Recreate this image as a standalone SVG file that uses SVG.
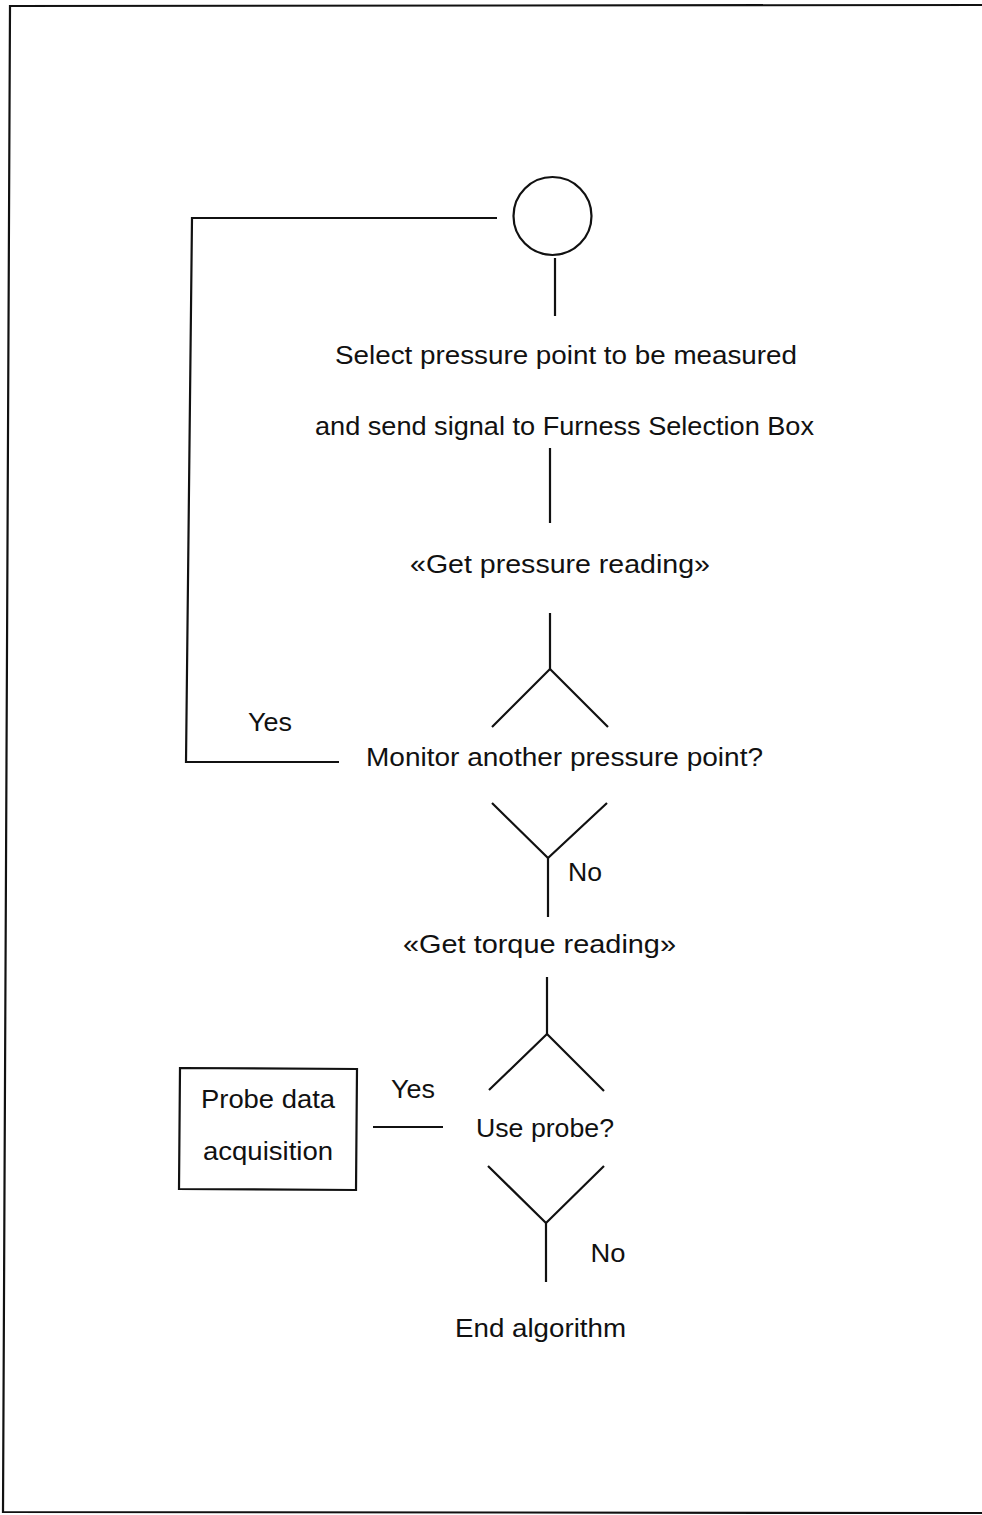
<svg xmlns="http://www.w3.org/2000/svg" width="982" height="1515" viewBox="0 0 982 1515">
<style>
.ln{stroke:#111;stroke-width:2.2;fill:none;stroke-linecap:butt}
.t{font-family:"Liberation Sans",Arial,sans-serif;font-size:25px;fill:#111;text-anchor:middle}
</style>
<rect width="982" height="1515" fill="#fff"/>
<polyline class="ln" points="982,5 10,6 3,1512 982,1513" stroke-width="2.5"/>
<g id="connectors">
<polyline class="ln" points="497,218 192,218 186,762 339,762"/>
<line class="ln" x1="555" y1="258" x2="555" y2="316"/>
<line class="ln" x1="550" y1="448" x2="550" y2="523"/>
<polyline class="ln" points="550,613 550,669"/>
<polyline class="ln" points="492,727 550,669 608,727"/>
<polyline class="ln" points="492,803 548,858 607,803"/>
<line class="ln" x1="548" y1="858" x2="548" y2="917"/>
<polyline class="ln" points="547,977 547,1034"/>
<polyline class="ln" points="489,1090 547,1034 604,1091"/>
<polyline class="ln" points="488,1166 546,1223 604,1166"/>
<line class="ln" x1="546" y1="1223" x2="546" y2="1282"/>
<line class="ln" x1="373" y1="1127" x2="443" y2="1127"/>
<text class="t" x="270" y="731" textLength="44" lengthAdjust="spacingAndGlyphs">Yes</text>
<text class="t" x="585" y="881" textLength="34" lengthAdjust="spacingAndGlyphs">No</text>
<text class="t" x="413" y="1098" textLength="44" lengthAdjust="spacingAndGlyphs">Yes</text>
<text class="t" x="608" y="1262" textLength="35" lengthAdjust="spacingAndGlyphs">No</text>
</g>
<g id="start">
<circle class="ln" cx="552.5" cy="216" r="39"/>
</g>
<g id="select">
<text class="t" x="566" y="364" textLength="462" lengthAdjust="spacingAndGlyphs">Select pressure point to be measured</text>
<text class="t" x="564.5" y="435" textLength="499" lengthAdjust="spacingAndGlyphs">and send signal to Furness Selection Box</text>
</g>
<g id="pressure">
<text class="t" x="560" y="573" textLength="300" lengthAdjust="spacingAndGlyphs">«Get pressure reading»</text>
</g>
<g id="monitor">
<text class="t" x="564.5" y="766" textLength="397" lengthAdjust="spacingAndGlyphs">Monitor another pressure point?</text>
</g>
<g id="torque">
<text class="t" x="539.5" y="953" textLength="273" lengthAdjust="spacingAndGlyphs">«Get torque reading»</text>
</g>
<g id="useprobe">
<text class="t" x="545" y="1137" textLength="138" lengthAdjust="spacingAndGlyphs">Use probe?</text>
</g>
<g id="probe">
<polygon class="ln" points="180,1068 357,1069 356,1190 179,1189"/>
<text class="t" x="268" y="1108" textLength="134" lengthAdjust="spacingAndGlyphs">Probe data</text>
<text class="t" x="268" y="1160" textLength="130" lengthAdjust="spacingAndGlyphs">acquisition</text>
</g>
<g id="end">
<text class="t" x="540.5" y="1337" textLength="171" lengthAdjust="spacingAndGlyphs">End algorithm</text>
</g>
</svg>
